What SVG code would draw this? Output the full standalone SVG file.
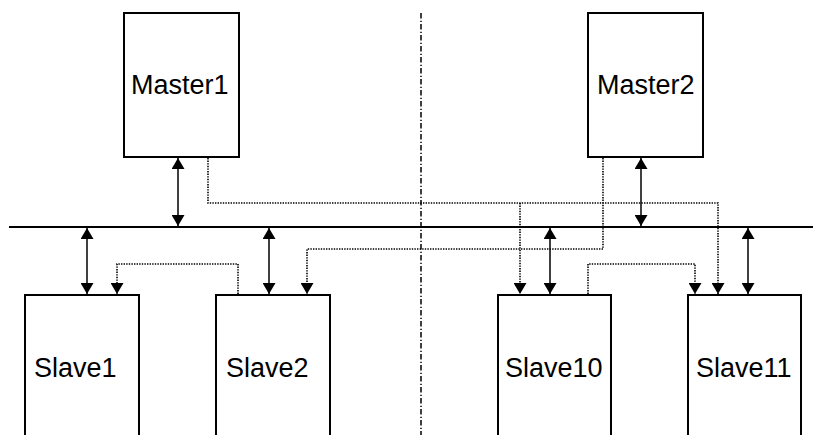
<svg xmlns="http://www.w3.org/2000/svg" width="813" height="435" viewBox="0 0 813 435">
<style>
.box{fill:#fff;stroke:#000;stroke-width:2}
.lbl{font-family:"Liberation Sans",Arial,sans-serif;font-size:27px;fill:#000}
.bus{stroke:#000;stroke-width:2;fill:none}
.sol{stroke:#000;stroke-width:1.5;fill:none;marker-start:url(#ah);marker-end:url(#ah)}
.dot{stroke:#000;stroke-width:1.6;fill:none;stroke-dasharray:1.4 1.2}
.dotA{marker-end:url(#ah)}
.dd{stroke:#000;stroke-width:1.5;fill:none;stroke-dasharray:5.5 2.2 1.3 2}
</style>
<defs>
<marker id="ah" markerUnits="userSpaceOnUse" markerWidth="12" markerHeight="13" refX="11" refY="6.5" orient="auto-start-reverse" viewBox="0 0 11 13">
<path d="M0,0 L11,6.5 L0,13 z" fill="#000"/>
</marker>
</defs>
<line class="dd" x1="421" y1="13" x2="421" y2="435"/>
<g id="connectors">
<line class="bus" x1="9" y1="227" x2="813" y2="227"/>
<line class="sol" x1="178" y1="158" x2="178" y2="226"/>
<line class="sol" x1="641" y1="158" x2="641" y2="226"/>
<line class="sol" x1="87" y1="228" x2="87" y2="294"/>
<line class="sol" x1="269" y1="228" x2="269" y2="294"/>
<line class="sol" x1="550" y1="228" x2="550" y2="294"/>
<line class="sol" x1="748" y1="228" x2="748" y2="294"/>
<path class="dot dotA" d="M208,158 V203 H718 V294"/>
<path class="dot dotA" d="M520,203 V294"/>
<path class="dot dotA" d="M603,158 V249 H307 V294"/>
<path class="dot dotA" d="M238,294 V264 H117 V294"/>
<path class="dot dotA" d="M588,294 V264 H695 V294"/>
</g>
<g id="master1"><rect class="box" x="124" y="13" width="115" height="144"/><text class="lbl" x="131" y="94">Master1</text></g>
<g id="master2"><rect class="box" x="588" y="13" width="115" height="144"/><text class="lbl" x="597" y="94">Master2</text></g>
<g id="slave1"><rect class="box" x="25" y="295" width="114" height="150"/><text class="lbl" x="34" y="377">Slave1</text></g>
<g id="slave2"><rect class="box" x="216" y="295" width="114" height="150"/><text class="lbl" x="226" y="377">Slave2</text></g>
<g id="slave10"><rect class="box" x="498" y="295" width="113" height="150"/><text class="lbl" x="505" y="377">Slave10</text></g>
<g id="slave11"><rect class="box" x="688" y="295" width="113" height="150"/><text class="lbl" x="696" y="377">Slave11</text></g>
</svg>
